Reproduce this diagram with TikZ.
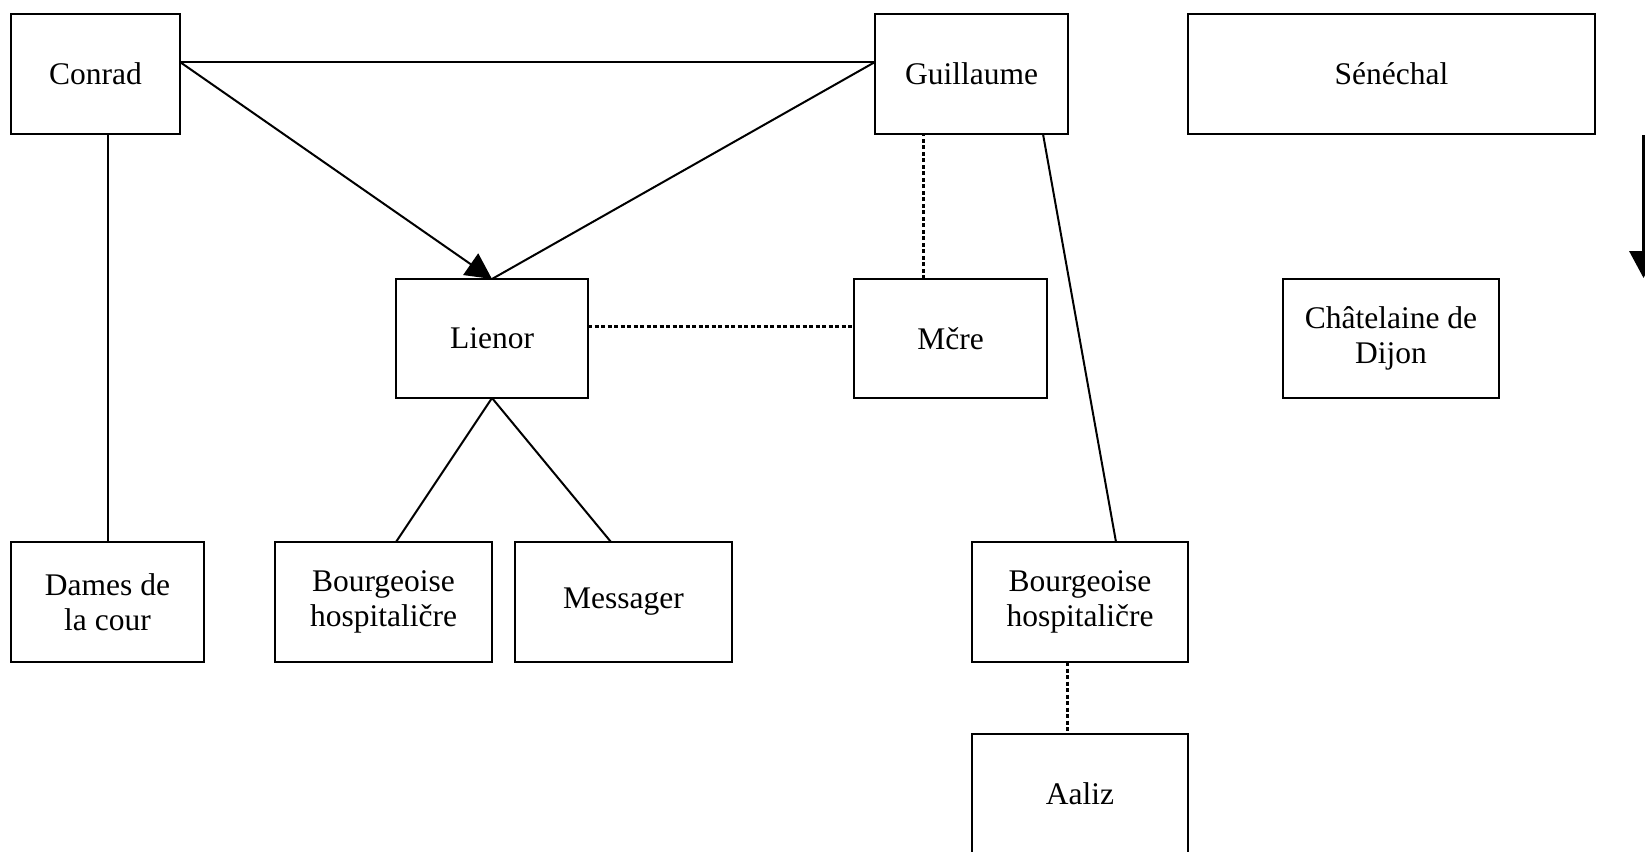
\documentclass[tikz,border=0pt]{standalone}
\usepackage{fontspec}
\setmainfont{Liberation Serif}
\usetikzlibrary{arrows.meta}
\begin{document}
\begin{tikzpicture}[x=1pt,y=-1pt,
  every node/.style={font=\fontsize{31.5pt}{35.5pt}\selectfont},
  box/.style={draw, line width=2pt, rectangle, inner sep=0pt, outer sep=0pt,
    minimum height=120pt, align=center},
  link/.style={line width=2pt},
  dotlink/.style={line width=3pt, dash pattern=on 4pt off 2.5pt},
  bigarrow/.style={line width=3.5pt, -{Triangle[length=27pt,width=28pt]}}]
\useasboundingbox (0,0) rectangle (1645,851);

% top row
\node[box, minimum width=169pt] (conrad) at (95.5,74) {Conrad};
\node[box, minimum width=193pt] (guillaume) at (971.5,74) {Guillaume};
\node[box, minimum width=407pt] (senechal) at (1391.5,74) {Sénéchal};

% middle row
\node[box, minimum width=192pt, minimum height=119pt] (lienor) at (492,338.5) {Lienor};
\node[box, minimum width=193pt, minimum height=119pt] (mere) at (950.5,338.5) {Mčre};
\node[box, minimum width=216pt, minimum height=119pt] (chatelaine) at (1391,338.5) {Châtelaine de\\Dijon};

% bottom row
\node[box, minimum width=193pt] (dames) at (107.5,602) {Dames de\\la cour};
\node[box, minimum width=217pt] (bourgA) at (383.5,602) {Bourgeoise\\hospitaličre};
\node[box, minimum width=217pt] (messager) at (623.5,602) {Messager};
\node[box, minimum width=216pt] (bourgB) at (1080,602) {Bourgeoise\\hospitaličre};
\node[box, minimum width=216pt] (aaliz) at (1080,794) {Aaliz};

% connectors
\draw[link] ([yshift=12pt]conrad.east) -- ([yshift=12pt]guillaume.west);
\draw[link, -{Triangle[length=26pt,width=26pt]}] ([yshift=12pt]conrad.east) -- (lienor.north);
\draw[link] ([yshift=12pt]guillaume.west) -- (lienor.north);
\draw[link] (dames.north) -- (dames.north |- conrad.south);
\draw[dotlink] ([yshift=12pt]lienor.east) -- ([yshift=12pt]mere.west);
\draw[dotlink] ([xshift=-27.5pt]mere.north) -- ([xshift=-27.5pt]mere.north |- guillaume.south);
\draw[link] ([xshift=71.5pt]guillaume.south) -- ([xshift=36pt]bourgB.north);
\draw[link] (lienor.south) -- ([xshift=12.5pt]bourgA.north);
\draw[link] (lienor.south) -- ([xshift=-12.5pt]messager.north);
\draw[dotlink] ([xshift=-13pt]bourgB.south) -- ([xshift=-13pt]aaliz.north);

% arrow at the right margin
\coordinate (arrtop) at (1643.5,135);
\coordinate (arrtip) at (1643.5,278);
\draw[bigarrow] (arrtop) -- (arrtip);
\end{tikzpicture}
\end{document}
